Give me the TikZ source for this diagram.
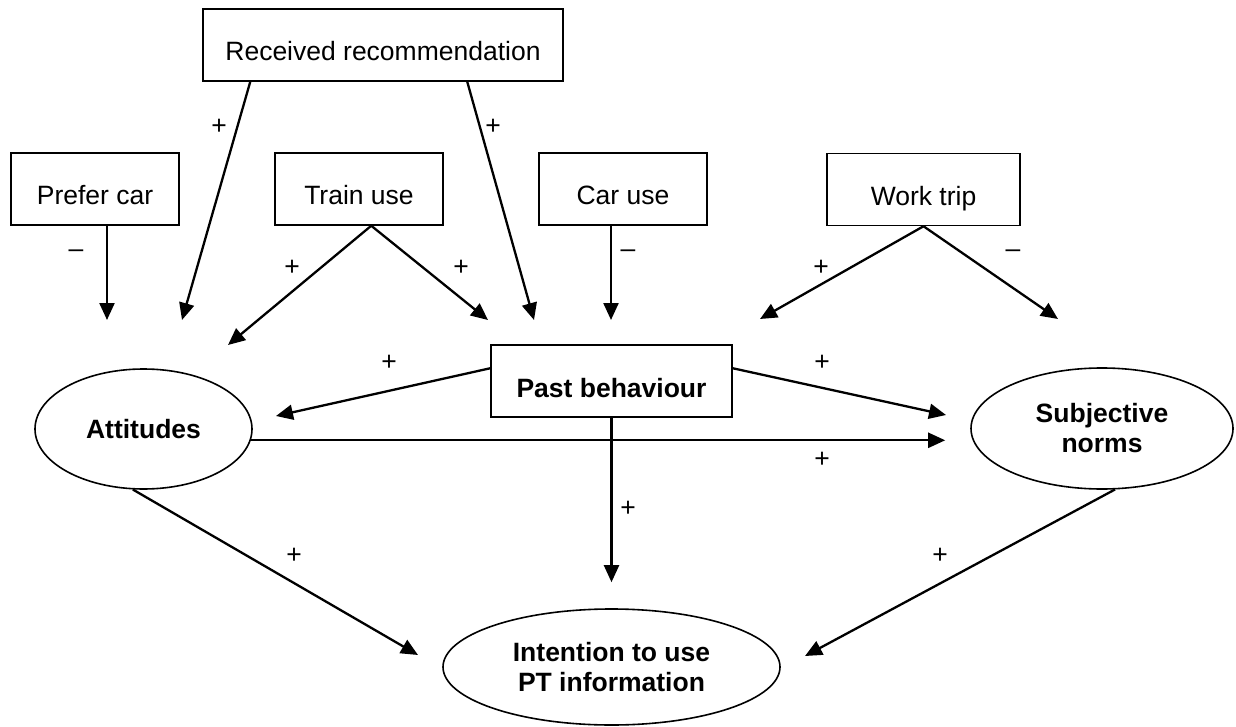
\documentclass[tikz,border=0pt]{standalone}
\usepackage{fontspec}
\setmainfont{Liberation Sans}
\usetikzlibrary{arrows.meta,shapes.geometric}
\begin{document}
\begin{tikzpicture}[x=1pt,y=-1pt,
  every node/.style={font=\fontsize{26.5}{30}\selectfont},
  box/.style={draw,line width=1.5pt,rectangle,inner sep=0pt,minimum height=72pt,text height=32pt,text depth=0pt},
  oval/.style={draw,line width=1.6pt,ellipse,inner sep=0pt,font=\fontsize{26.5}{30}\selectfont\bfseries,align=center},
  arr/.style={line width=2.3pt,-{Triangle[length=17pt,width=15pt]}},
  sign/.style={inner sep=0pt}]
\useasboundingbox (0,0) rectangle (1236,727);

% boxes
\node[box,minimum width=360pt] (rec) at (383,45) {Received recommendation};
\node[box,minimum width=168pt] (prefer) at (95,189) {Prefer car};
\node[box,minimum width=168pt] (train) at (359,189) {Train use};
\node[box,minimum width=168pt] (car) at (623,189) {Car use};
\node[box,minimum width=193pt] (work) at (923.5,189.5) {Work trip};
\node[box,minimum width=241pt,font=\fontsize{26.5}{30}\selectfont\bfseries] (past) at (611.5,381) {Past behaviour};

% ellipses
\node[oval,minimum width=217pt,minimum height=120pt,text height=19pt,text depth=0pt] (att) at (143.5,429) {Attitudes};
\node[oval,minimum width=262pt,minimum height=121pt] (subj) at (1102,428.5) {Subjective\\norms};
\node[oval,minimum width=337pt,minimum height=116pt] (int) at (611.5,667) {Intention to use\\PT information};

% free arrow ends
\coordinate (tPrefer) at (107,320);
\coordinate (tRecA) at (182,320);
\coordinate (tTrainA) at (228,345);
\coordinate (tTrainP) at (488,320);
\coordinate (tRecP) at (534,320);
\coordinate (tCar) at (611,320);
\coordinate (tWorkP) at (760,319);
\coordinate (tWorkS) at (1058,319);
\coordinate (tPA) at (276,416);
\coordinate (tPS) at (946,415);
\coordinate (tAI) at (418,655);
\coordinate (tSI) at (805,656);
\coordinate (tAS) at (att.-6.4 -| subj.west);

% arrows
\draw[arr] (prefer.south -| tPrefer) -- (tPrefer);
\draw[arr] ([xshift=48pt]rec.south west) -- (tRecA);
\draw[arr] ([xshift=265pt]rec.south west) -- (tRecP);
\draw[arr] ([xshift=97pt]train.south west) -- (tTrainA);
\draw[arr] ([xshift=97pt]train.south west) -- (tTrainP);
\draw[arr] (car.south -| tCar) -- (tCar);
\draw[arr] (work.south) -- (tWorkP);
\draw[arr] (work.south) -- (tWorkS);
\draw[arr] ([yshift=-24pt]past.north west) -- (tPA);
\draw[arr] ([yshift=-24pt]past.north east) -- (tPS);
\draw[arr] (att.-6.4) -- ([xshift=-25pt]tAS);
\draw[arr] (past.south) -- ([yshift=26pt]int.north);
\draw[arr] (att.-100.8) -- (tAI);
\draw[arr] (subj.-78.8) -- (tSI);

% signs
\node[sign] (l1) at (219,127) {+};
\node[sign] (l2) at (493,127) {+};
\node[sign] (l3) at (76,254) {--};
\node[sign] (l4) at (292,268) {+};
\node[sign] (l5) at (461,268) {+};
\node[sign] (l6) at (628,254) {--};
\node[sign] (l7) at (821,268) {+};
\node[sign] (l8) at (1013,254) {--};
\node[sign] (l9) at (389,363) {+};
\node[sign] (l10) at (822,363) {+};
\node[sign] (l11) at (822,460) {+};
\node[sign] (l12) at (628,509) {+};
\node[sign] (l13) at (294,556) {+};
\node[sign] (l14) at (940,556) {+};
\end{tikzpicture}
\end{document}
